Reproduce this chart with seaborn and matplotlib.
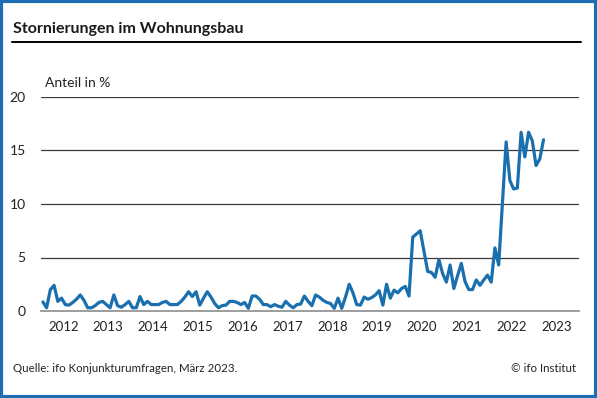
import numpy as np
import pandas as pd
import matplotlib.pyplot as plt
import matplotlib.patches as mpatches
from matplotlib.lines import Line2D
import seaborn as sns

# ── Data (monthly share in %, Jan 2012 – Mar 2023) ─────
y2012 = [0.85, 0.3, 2.0, 2.4, 0.9, 1.2, 0.6, 0.55, 0.8, 1.1, 1.5, 1.0]
y2013 = [0.3, 0.3, 0.5, 0.8, 0.9, 0.6, 0.3, 1.5, 0.5, 0.35, 0.6, 0.9]
y2014 = [0.3, 0.3, 1.35, 0.6, 0.9, 0.6, 0.6, 0.6, 0.8, 0.9, 0.6, 0.6]
y2015 = [0.6, 0.9, 1.3, 1.8, 1.35, 1.8, 0.55, 1.2, 1.8, 1.3, 0.7, 0.3]
y2016 = [0.5, 0.55, 0.9, 0.9, 0.8, 0.6, 0.8, 0.25, 1.4, 1.4, 1.1, 0.6]
y2017 = [0.6, 0.4, 0.6, 0.45, 0.35, 0.9, 0.55, 0.3, 0.6, 0.65, 1.4, 0.9]
y2018 = [0.5, 1.5, 1.3, 1.0, 0.8, 0.7, 0.25, 1.2, 0.25, 1.3, 2.5, 1.7]
y2019 = [0.6, 0.55, 1.3, 1.1, 1.25, 1.5, 1.9, 0.55, 2.5, 1.2, 1.95, 1.7]
y2020 = [2.1, 2.3, 1.4, 6.9, 7.2, 7.5, 5.6, 3.7, 3.6, 3.15, 4.8, 3.5]
y2021 = [2.7, 4.3, 2.1, 3.3, 4.45, 2.75, 2.0, 2.0, 2.9, 2.4, 2.9, 3.35]
y2022 = [2.7, 5.9, 4.3, 10.0, 15.8, 12.2, 11.4, 11.5, 16.7, 14.4, 16.7, 15.9]
y2023 = [13.6, 14.2, 16.0]

values = (y2012 + y2013 + y2014 + y2015 + y2016 + y2017 + y2018 + y2019
          + y2020 + y2021 + y2022 + y2023)
years = list(range(2012, 2024))
y_ticks = [0, 5, 10, 15, 20]

df = pd.DataFrame({"month": np.arange(len(values)), "anteil": values})
df["x"] = 2012 + (df["month"] + 0.5) / 12

BLUE = "#1a6fae"

sns.set_theme(style="white")
plt.rcParams["font.family"] = ["Lato", "DejaVu Sans"]

fig = plt.figure(figsize=(5.97, 3.98), dpi=100)
ax = fig.add_axes([41 / 597, 1 - 311 / 398, 538 / 597, 214 / 398])

sns.lineplot(data=df, x="x", y="anteil", color=BLUE, linewidth=2.3, ax=ax)

ax.set_xlim(2012, 2024)
ax.set_ylim(0, 20)
for s in ["top", "right", "left"]:
    ax.spines[s].set_visible(False)
ax.spines["bottom"].set_color("#8c8c8c")
ax.spines["bottom"].set_linewidth(1.2)

for v in y_ticks[1:]:
    ax.axhline(v, color="#3a3a3a", linewidth=0.9, zorder=0)

ax.set_yticks(y_ticks)
ax.set_yticklabels([str(v) for v in y_ticks], fontsize=10, color="#222222")
ax.tick_params(axis="y", length=0, pad=11)

ax.set_xticks(years + [2024])
ax.set_xticklabels([])
ax.tick_params(axis="x", which="major", length=4, width=1, color="#8c8c8c", direction="out")
ax.set_xticks([y + 0.5 for y in years], minor=True)
ax.set_xticklabels([str(y) for y in years], minor=True, fontsize=9.5, color="#222222")
ax.tick_params(axis="x", which="minor", length=0, pad=7)
ax.set_xlabel("")
ax.set_ylabel("")

fig.text(45 / 597, 1 - 83 / 398, "Anteil in %", fontsize=10,
         color="#222222", ha="left", va="center")

# ── Header, footer, border ─────────────────────────────
fig.text(13 / 597, 1 - 29 / 398, "Stornierungen im Wohnungsbau", fontsize=11.5,
         fontweight="bold", color="#1a1a1a", ha="left", va="center")
fig.add_artist(Line2D([12 / 597, 581 / 597], [1 - 42 / 398] * 2, color="black",
                      linewidth=1.4, transform=fig.transFigure))
fig.text(13 / 597, 1 - 369 / 398, "Quelle: ifo Konjunkturumfragen, März 2023.",
         fontsize=8.3, color="#222222", ha="left", va="center")
fig.text(576 / 597, 1 - 369 / 398, "© ifo Institut",
         fontsize=8.3, color="#222222", ha="right", va="center")
fig.add_artist(mpatches.Rectangle((0.002, 0.003), 0.996, 0.994, fill=False,
                                  edgecolor="#1d6db2", linewidth=3,
                                  transform=fig.transFigure))

fig.savefig("out.png", dpi=100)
